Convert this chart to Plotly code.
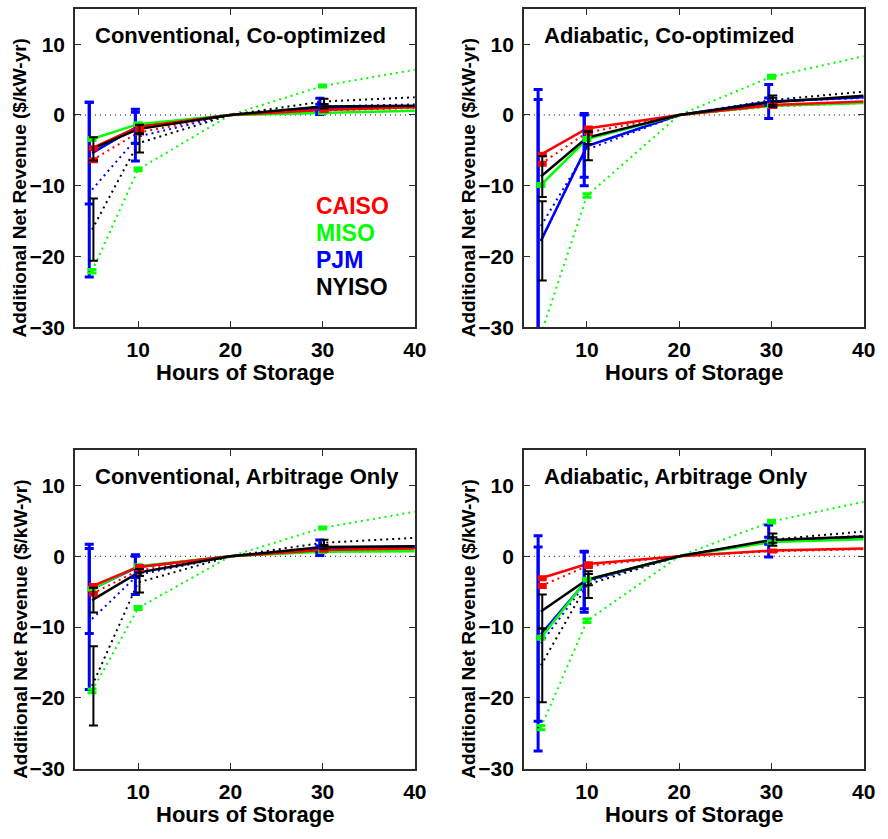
import plotly.graph_objects as go

# Storage durations (hours) and the durations that carry spread bars
HOURS = [5, 10, 20, 30, 40]
BAR_HOURS = [5, 10, 30]

REGIONS = ["CAISO", "MISO", "PJM", "NYISO"]
COLORS = ["#ff0000", "#00ff00", "#0000ff", "#000000"]
BAR_SHIFT = [0.15, 0.0, -0.3, 0.15]      # small horizontal offsets so bars don't overlap
BAR_THICK = [3, 3, 3, 2]

X_TICKS = [10, 20, 30, 40]
Y_TICKS = [-30, -20, -10, 0, 10]

PANEL_TITLES = [
    "Conventional, Co-optimized",
    "Adiabatic, Co-optimized",
    "Conventional, Arbitrage Only",
    "Adiabatic, Arbitrage Only",
]

# --- Conventional, co-optimized -------------------------------------------
CONV_COOPT_MEAN = {
    "CAISO": [-4.7, -1.7, 0, 0.7, 1.1],
    "MISO": [-3.4, -1.3, 0, 0.3, 0.6],
    "PJM": [-5.4, -1.6, 0, 1.0, 1.2],
    "NYISO": [-4.8, -2.0, 0, 1.2, 1.3],
}
CONV_COOPT_MEAN_ERR = {
    "CAISO": [0.2, 0.2, 0.1],
    "MISO": [0.2, 0.2, 0.1],
    "PJM": [7.2, 2.4, 0.5],
    "NYISO": [1.65, 0.6, 0.3],
}
CONV_COOPT_ALT = {
    "CAISO": [-6.4, -2.5, 0, 0.6, 1.0],
    "MISO": [-22.1, -7.7, 0, 4.1, 6.4],
    "PJM": [-10.55, -3.05, 0, 1.2, 1.5],
    "NYISO": [-16.2, -4.0, 0, 1.9, 2.5],
}
CONV_COOPT_ALT_ERR = {
    "CAISO": [0.2, 0.2, 0.1],
    "MISO": [0.25, 0.2, 0.15],
    "PJM": [12.35, 3.45, 1.15],
    "NYISO": [4.4, 1.3, 0.4],
}

# --- Adiabatic, co-optimized ----------------------------------------------
ADIA_COOPT_MEAN = {
    "CAISO": [-5.6, -1.9, 0, 1.4, 1.9],
    "MISO": [-9.9, -3.4, 0, 1.3, 1.7],
    "PJM": [-17.8, -4.4, 0, 1.9, 2.5],
    "NYISO": [-8.7, -3.2, 0, 1.8, 2.7],
}
ADIA_COOPT_MEAN_ERR = {
    "CAISO": [0.2, 0.2, 0.15],
    "MISO": [0.2, 0.2, 0.15],
    "PJM": [20.0, 4.4, 0.5],
    "NYISO": [2.9, 0.9, 0.65],
}
ADIA_COOPT_ALT = {
    "CAISO": [-6.9, -2.5, 0, 1.2, 1.7],
    "MISO": [-31.0, -11.4, 0, 5.4, 8.3],
    "PJM": [-15.7, -4.9, 0, 1.9, 2.4],
    "NYISO": [-17.8, -4.4, 0, 2.1, 3.3],
}
ADIA_COOPT_ALT_ERR = {
    "CAISO": [0.2, 0.2, 0.15],
    "MISO": [0.3, 0.25, 0.2],
    "PJM": [19.3, 5.1, 2.4],
    "NYISO": [5.6, 2.0, 0.65],
}

# --- Conventional, arbitrage only -----------------------------------------
CONV_ARB_MEAN = {
    "CAISO": [-4.2, -1.5, 0, 0.9, 1.1],
    "MISO": [-4.6, -1.4, 0, 0.65, 0.7],
    "PJM": [-4.6, -1.5, 0, 1.0, 1.2],
    "NYISO": [-6.2, -2.3, 0, 1.3, 1.4],
}
CONV_ARB_MEAN_ERR = {
    "CAISO": [0.2, 0.2, 0.1],
    "MISO": [0.2, 0.2, 0.1],
    "PJM": [6.3, 1.5, 0.5],
    "NYISO": [1.75, 0.5, 0.3],
}
CONV_ARB_ALT = {
    "CAISO": [-5.3, -2.0, 0, 0.8, 1.0],
    "MISO": [-19.0, -7.3, 0, 4.0, 6.3],
    "PJM": [-8.85, -2.6, 0, 1.2, 1.4],
    "NYISO": [-18.3, -3.7, 0, 1.9, 2.6],
}
CONV_ARB_ALT_ERR = {
    "CAISO": [0.2, 0.2, 0.1],
    "MISO": [0.25, 0.2, 0.15],
    "PJM": [9.95, 2.8, 1.1],
    "NYISO": [5.6, 1.4, 0.45],
}

# --- Adiabatic, arbitrage only --------------------------------------------
ADIA_ARB_MEAN = {
    "CAISO": [-3.1, -1.1, 0, 0.8, 1.1],
    "MISO": [-11.5, -3.3, 0, 2.0, 2.4],
    "PJM": [-11.0, -3.4, 0, 2.2, 2.7],
    "NYISO": [-7.8, -3.3, 0, 2.3, 2.8],
}
ADIA_ARB_MEAN_ERR = {
    "CAISO": [0.2, 0.2, 0.1],
    "MISO": [0.2, 0.2, 0.15],
    "PJM": [12.3, 4.0, 0.5],
    "NYISO": [2.4, 0.8, 0.4],
}
ADIA_ARB_ALT = {
    "CAISO": [-4.2, -1.4, 0, 0.7, 1.0],
    "MISO": [-24.2, -9.1, 0, 4.9, 7.7],
    "PJM": [-12.3, -3.6, 0, 2.15, 2.9],
    "NYISO": [-15.4, -4.0, 0, 2.35, 3.5],
}
ADIA_ARB_ALT_ERR = {
    "CAISO": [0.2, 0.2, 0.1],
    "MISO": [0.3, 0.25, 0.2],
    "PJM": [15.2, 4.3, 2.25],
    "NYISO": [5.2, 1.9, 0.85],
}

PANELS = [
    (CONV_COOPT_MEAN, CONV_COOPT_MEAN_ERR, CONV_COOPT_ALT, CONV_COOPT_ALT_ERR),
    (ADIA_COOPT_MEAN, ADIA_COOPT_MEAN_ERR, ADIA_COOPT_ALT, ADIA_COOPT_ALT_ERR),
    (CONV_ARB_MEAN, CONV_ARB_MEAN_ERR, CONV_ARB_ALT, CONV_ARB_ALT_ERR),
    (ADIA_ARB_MEAN, ADIA_ARB_MEAN_ERR, ADIA_ARB_ALT, ADIA_ARB_ALT_ERR),
]

# ---------------------------------------------------------------------------
W, H = 888, 839
FONT = "Liberation Sans, Arial, sans-serif"

# pixel boxes of the four axes: (left, right, top, bottom)
BOXES = [
    (76, 420.5, 9, 331.5),
    (531, 875.5, 9, 331.5),
    (76, 420.5, 456, 779),
    (531, 875.5, 456, 779),
]

fig = go.Figure()
layout = dict(
    width=W, height=H, margin=dict(l=0, r=0, t=0, b=0),
    paper_bgcolor="white", plot_bgcolor="white", showlegend=False,
)

axis_common = dict(
    showgrid=False, zeroline=False, showline=True, linecolor="#2b2b2b",
    linewidth=1.5, mirror="ticks", ticks="inside", ticklen=6, tickwidth=1.2,
    tickcolor="#2b2b2b",
    tickfont=dict(family=FONT, size=21, color="black", weight="bold"),
)

annotations = []
for p, (mean, mean_err, alt, alt_err) in enumerate(PANELS):
    left, right, top, bottom = BOXES[p]
    xa = "x" if p == 0 else f"x{p + 1}"
    ya = "y" if p == 0 else f"y{p + 1}"
    xkey = "xaxis" if p == 0 else f"xaxis{p + 1}"
    ykey = "yaxis" if p == 0 else f"yaxis{p + 1}"
    layout[xkey] = dict(
        axis_common, domain=[left / W, right / W], range=[3.15, 40],
        tickvals=X_TICKS, anchor=ya, ticklabelstandoff=3,
    )
    layout[ykey] = dict(
        axis_common, domain=[1 - bottom / H, 1 - top / H], range=[-30, 15],
        tickvals=Y_TICKS, anchor=xa, ticklabelstandoff=4,
    )

    # zero reference line
    fig.add_trace(go.Scatter(
        x=[3.15, 40], y=[0, 0], mode="lines", xaxis=xa, yaxis=ya,
        line=dict(color="black", width=1, dash="1px,4px"), hoverinfo="skip",
    ))

    # dotted companion series
    for r, name in enumerate(REGIONS):
        fig.add_trace(go.Scatter(
            x=HOURS, y=alt[name], mode="lines", xaxis=xa, yaxis=ya,
            line=dict(color=COLORS[r], width=2, dash="2px,4px"), name=name,
        ))
    # solid series, drawn in the order blue, green, red, black
    for r in [2, 1, 0, 3]:
        name = REGIONS[r]
        fig.add_trace(go.Scatter(
            x=HOURS, y=mean[name], mode="lines", xaxis=xa, yaxis=ya,
            line=dict(color=COLORS[r], width=2.5), name=name,
        ))
    # spread bars for both series
    for r in [2, 1, 0, 3]:
        name = REGIONS[r]
        for series, err in ((alt, alt_err), (mean, mean_err)):
            ys = [series[name][HOURS.index(h)] for h in BAR_HOURS]
            fig.add_trace(go.Scatter(
                x=[h + BAR_SHIFT[r] for h in BAR_HOURS], y=ys, mode="markers",
                xaxis=xa, yaxis=ya, marker=dict(size=1, opacity=0),
                error_y=dict(type="data", array=err[name], visible=True,
                             color=COLORS[r], thickness=BAR_THICK[r], width=4.5),
                name=name,
            ))

    # panel title
    annotations.append(dict(
        text=PANEL_TITLES[p], xref="paper", yref="paper",
        x=(left + 18) / W, y=1 - (top + 27) / H, xanchor="left", yanchor="middle",
        showarrow=False, font=dict(family=FONT, size=22, color="black", weight="bold"),
    ))
    # axis titles
    annotations.append(dict(
        text="Hours of Storage", xref="paper", yref="paper",
        x=(left + right) / 2 / W, y=1 - (bottom + 46) / H,
        xanchor="center", yanchor="middle", showarrow=False,
        font=dict(family=FONT, size=22, color="black", weight="bold"),
    ))
    annotations.append(dict(
        text="Additional Net Revenue ($/kW-yr)", xref="paper", yref="paper",
        x=(left - 56) / W, y=1 - ((top + bottom) / 2 + 20) / H, textangle=-90,
        xanchor="center", yanchor="middle", showarrow=False,
        font=dict(family=FONT, size=19, color="black", weight="bold"),
    ))

# region key inside the first panel
for r, name in enumerate(REGIONS):
    annotations.append(dict(
        text=name, xref="paper", yref="paper",
        x=318 / W, y=1 - (209 + 27.3 * r) / H, xanchor="left", yanchor="middle",
        showarrow=False,
        font=dict(family=FONT, size=23, color=COLORS[r], weight="bold"),
    ))

layout["annotations"] = annotations
fig.update_layout(**layout)
fig.write_html("out.html")
